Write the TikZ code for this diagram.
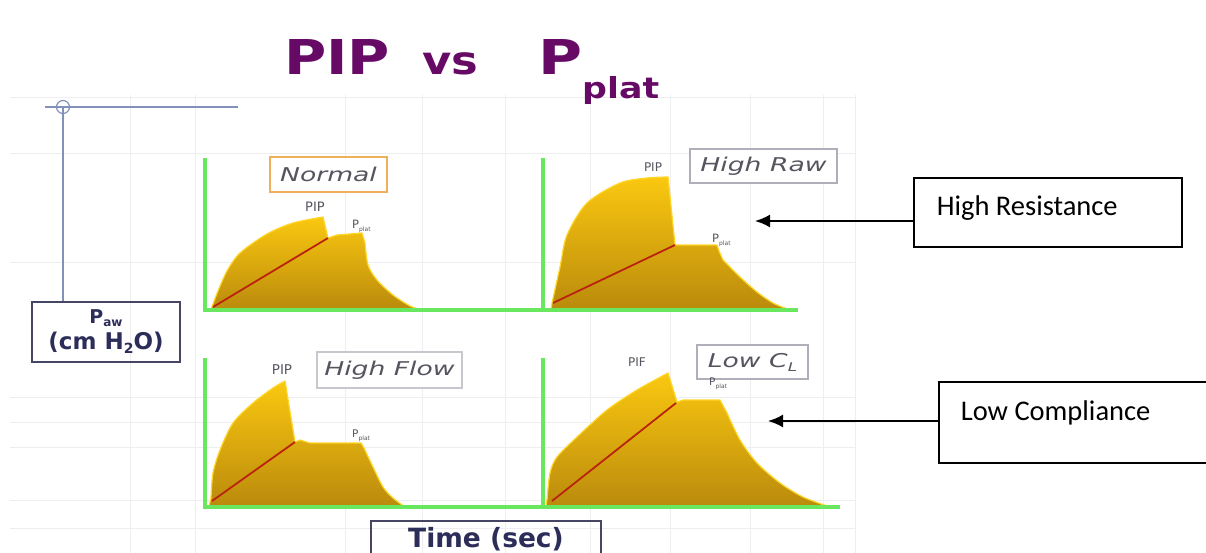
\documentclass[tikz,border=0pt]{standalone}
\usepackage{fontspec}
\usepackage{graphicx}
\setmainfont{DejaVu Sans}
\newfontfamily\calloutfont{Carlito}
\usetikzlibrary{arrows.meta}

\definecolor{titlepurple}{RGB}{102,10,102}
\definecolor{axisgreen}{RGB}{105,232,95}
\definecolor{goldtop}{RGB}{250,200,16}
\definecolor{goldbottom}{RGB}{186,138,12}
\definecolor{goldedge}{RGB}{255,214,40}
\definecolor{trendred}{RGB}{185,35,15}
\definecolor{navytext}{RGB}{45,45,90}
\definecolor{boxnavy}{RGB}{70,70,100}
\definecolor{crossblue}{RGB}{130,145,185}
\definecolor{tagorange}{RGB}{240,175,90}
\definecolor{taggray}{RGB}{175,175,185}
\definecolor{labelgray}{RGB}{85,85,95}
\definecolor{faintgrid}{RGB}{238,238,241}

\begin{document}
\begin{tikzpicture}[x=1pt,y=-1pt,
  gridline/.style={faintgrid,line width=0.8pt},
  axisline/.style={axisgreen,line width=4.5pt},
  curvefill/.style={top color=goldtop,bottom color=goldbottom,draw=goldedge,line width=1.2pt,line join=round},
  trendline/.style={trendred,line width=1.8pt},
  tagbox/.style={draw=taggray,line width=1.2pt,fill=white,inner sep=0pt,text=labelgray,font=\fontsize{19}{19}\selectfont\itshape},
  smalltag/.style={text=labelgray,inner sep=0pt},
  unitbox/.style={draw=boxnavy,line width=2pt,text=navytext,inner sep=0pt},
  calloutbox/.style={draw=black,line width=1.6pt,inner ysep=0pt,align=flush left,font=\calloutfont\fontsize{28.5}{30}\selectfont},
  pointer/.style={black,line width=2pt,-{Latex[length=15pt,width=13pt]}},
  titletext/.style={text=titlepurple,inner sep=0pt,anchor=base west,font=\bfseries}
]
\useasboundingbox (0,0) rectangle (1206,553);
\clip (0,0) rectangle (1206,553);
\fill[white] (0,0) rectangle (1206,553);

% faint background grid
\foreach \gx in {130,195,345,422,505,590,670,750,823,855}
  \draw[gridline] (\gx,95) -- (\gx,553);
\foreach \gy in {97,153,262,397,422,447,500,528}
  \draw[gridline] (10,\gy) -- (855,\gy);

% title
\node[titletext,font=\bfseries\fontsize{48}{52}\selectfont] (titlepip) at (284,75)
  {\scalebox{1.2}[1]{PIP}};
\node[titletext,font=\bfseries\fontsize{39}{42}\selectfont] (titlevs) at (422,75)
  {\scalebox{1.15}[1]{vs}};
\node[titletext,font=\bfseries\fontsize{48}{52}\selectfont] (titlepplat) at (538,75)
  {\scalebox{1.25}[1]{P}\raisebox{-24pt}{\fontsize{29}{32}\selectfont\scalebox{1.2}[1]{plat}}};

% crosshair and y-axis unit box
\coordinate (crossc) at (63,107);
\draw[crossblue,line width=1.4pt] (45,107) -- (238,107);
\draw[crossblue,line width=1.2pt] (crossc) circle (6.5);
\node[unitbox,minimum width=148pt,minimum height=60pt,align=center,
      font=\bfseries\fontsize{23}{26}\selectfont] (pawbox) at (106,332)
  {{\fontsize{19}{19}\selectfont P\raisebox{-3pt}{\fontsize{12}{12}\selectfont aw}}\\
   (cm H\raisebox{-4pt}{\fontsize{14}{14}\selectfont 2}O)};
\draw[crossblue,line width=1.4pt] (crossc) -- (crossc |- pawbox.north);

% time unit box
\node[unitbox,anchor=north west,minimum width=230pt,inner ysep=6pt,
      text height=20pt,text depth=30pt,font=\bfseries\fontsize{26.5}{28}\selectfont]
  (timebox) at (370,520) {Time (sec)};

% pressure curves
\path[curvefill] (211,309) -- plot[smooth,tension=0.5] coordinates
  {(213,304) (218,291) (227,271) (240,253) (267,234) (293,223) (323,217)}
  -- (328,238) -- (337,235) -- (362,233) -- plot[smooth,tension=0.5] coordinates
  {(365,243) (368,265) (377,280) (393,295) (410,306) (422,310)} -- cycle;
\path[curvefill] (551,309) -- plot[smooth,tension=0.5] coordinates
  {(552,303) (560,267) (567,235) (587,203) (620,183) (647,178) (668,177)}
  -- (675,245) -- (717,245) -- (719,251) -- plot[smooth,tension=0.5] coordinates
  {(723,260) (740,277) (757,292) (773,303) (790,310)} -- cycle;
\path[curvefill] (209,506) -- plot[smooth,tension=0.5] coordinates
  {(211,498) (213,473) (220,450) (233,423) (253,403) (273,388) (285,381)}
  -- (295,442) -- (300,440) -- (310,443) -- (361,443) -- plot[smooth,tension=0.5] coordinates
  {(364,448) (373,467) (383,487) (393,498) (405,507)} -- cycle;
\path[curvefill] (546,506) -- plot[smooth,tension=0.5] coordinates
  {(547,500) (550,473) (557,457) (577,437) (607,410) (637,390) (668,373)}
  -- (677,402) -- (683,400) -- (720,400) -- plot[smooth,tension=0.5] coordinates
  {(727,413) (740,440) (757,463) (780,483) (803,497) (830,507)} -- cycle;

% red trend lines
\draw[trendline] (213,307) -- (328,238);
\draw[trendline] (553,303) -- (675,245);
\draw[trendline] (212,501) -- (295,442);
\draw[trendline] (552,501) -- (676,403);

% green axes
\draw[axisline] (205,158) -- (205,310) -- (798,310);
\draw[axisline] (543,158) -- (543,310);
\draw[axisline] (205,358) -- (205,507) -- (840,507);
\draw[axisline] (543,358) -- (543,507);

% case tags
\node[tagbox,draw=tagorange,minimum width=117pt,minimum height=35pt] (tagnormal) at (328.5,174.5)
  {\scalebox{1.4}[1]{Normal}};
\node[tagbox,minimum width=147pt,minimum height=34pt] (tagraw) at (763.5,166)
  {\scalebox{1.4}[1]{High Raw}};
\node[tagbox,draw=taggray!70,minimum width=145pt,minimum height=36pt] (tagflow) at (389.5,370)
  {\scalebox{1.4}[1]{High Flow}};
\node[tagbox,minimum width=111pt,minimum height=34pt] (tagcl) at (752.5,362)
  {\scalebox{1.4}[1]{Low C\raisebox{-4pt}{\fontsize{12}{12}\selectfont L}}};

% peak and plateau labels
\node[smalltag,font=\fontsize{13}{14}\selectfont] (pip1) at (315,207) {PIP};
\node[smalltag,anchor=base west,font=\fontsize{11.5}{12}\selectfont] (plat1) at (352,229)
  {P\raisebox{-3pt}{\fontsize{6}{6}\selectfont plat}};
\node[smalltag,font=\fontsize{12}{13}\selectfont] (pip2) at (653,167) {PIP};
\node[smalltag,anchor=base west,font=\fontsize{11.5}{12}\selectfont] (plat2) at (712,243)
  {P\raisebox{-3pt}{\fontsize{6}{6}\selectfont plat}};
\node[smalltag,font=\fontsize{13.5}{14}\selectfont] (pip3) at (282,370) {PIP};
\node[smalltag,anchor=base west,font=\fontsize{10.5}{12}\selectfont] (plat3) at (352,437)
  {P\raisebox{-3pt}{\fontsize{6}{6}\selectfont plat}};
\node[smalltag,font=\fontsize{12}{13}\selectfont] (pif4) at (637,362) {PIF};
\node[smalltag,anchor=base west,font=\fontsize{10.5}{12}\selectfont] (plat4) at (709,385)
  {P\raisebox{-3pt}{\fontsize{6}{6}\selectfont plat}};

% callouts
\node[calloutbox,anchor=north west,minimum width=268pt,minimum height=69pt,
      text width=222pt,inner xsep=23pt,text height=25pt,text depth=18pt]
  (hrbox) at (913,177) {High Resistance};
\node[calloutbox,anchor=north west,minimum height=81pt,
      text width=250pt,inner xsep=22pt,text height=20pt,text depth=23pt]
  (lcbox) at (938,381) {Low Compliance};
\coordinate (hrtip) at (755,221);
\coordinate (lctip) at (768,421);
\draw[pointer] (hrtip -| hrbox.west) -- (hrtip);
\draw[pointer] (lctip -| lcbox.west) -- (lctip);
\end{tikzpicture}
\end{document}
